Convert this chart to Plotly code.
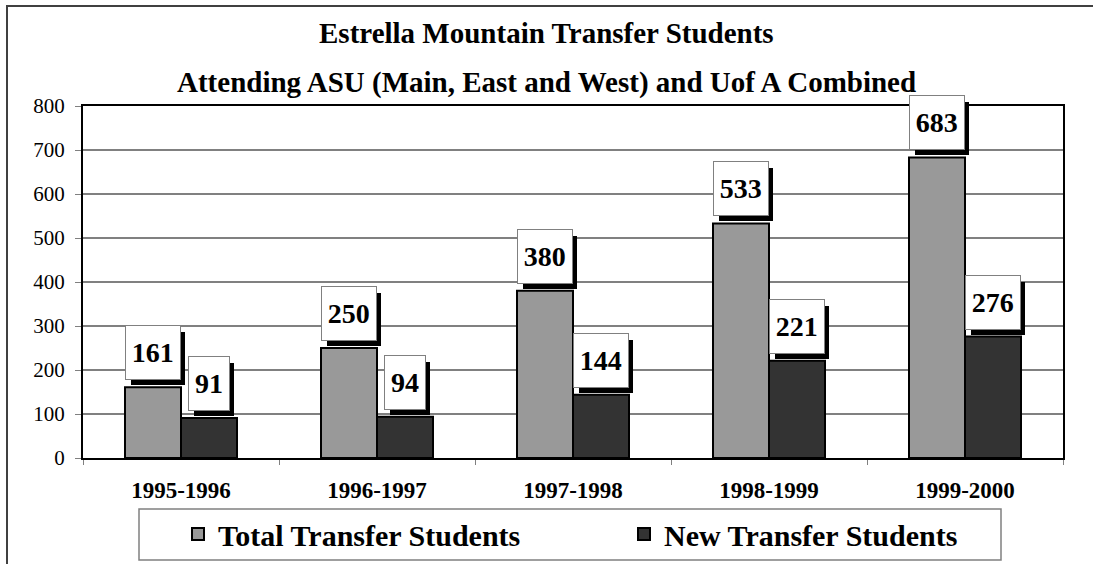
import plotly.graph_objects as go

categories = ["1995-1996", "1996-1997", "1997-1998", "1998-1999", "1999-2000"]
total_students = [161, 250, 380, 533, 683]
new_students = [91, 94, 144, 221, 276]
series_names = ["Total Transfer Students", "New Transfer Students"]
series_colors = ["#999999", "#333333"]
title_lines = ["Estrella Mountain Transfer Students",
               "Attending ASU (Main, East and West) and Uof A Combined"]
y_ticks = [0, 100, 200, 300, 400, 500, 600, 700, 800]

FONT = "Liberation Serif, Times New Roman, serif"
W, H = 1093, 564
ML, MR, MT, MB = 83, 30, 106, 106
PW, PH = W - ML - MR, H - MT - MB
BARGAP = 0.4286


def px_x(p):
    return (p - ML) / PW


def px_y(p):
    return (H - MB - p) / PH


fig = go.Figure()
legend_ids = ["legend", "legend2"]
for name, vals, col, lg in zip(series_names, [total_students, new_students],
                               series_colors, legend_ids):
    fig.add_trace(go.Bar(
        x=categories, y=vals, name=name, legend=lg,
        marker=dict(color=col, line=dict(color="black", width=2)),
        hoverinfo="x+y+name",
    ))

# data labels with drop shadows
half = (1 - BARGAP) / 4
annotations = []
for s, vals in enumerate([total_students, new_students]):
    off = -half if s == 0 else half
    for i, v in enumerate(vals):
        txt = str(v)
        bw = 13.5 * len(txt) + 13
        common = dict(x=i + off, y=v, xref="x", yref="y", xanchor="center",
                      yanchor="bottom", showarrow=False, width=bw, height=53,
                      borderpad=0)
        # shadow box (no text)
        annotations.append(dict(common, text=" ", xshift=5, yshift=2,
                                bgcolor="black", borderwidth=0,
                                font=dict(family=FONT, size=28, color="black")))
        # white label box
        annotations.append(dict(common, text="<b>" + txt + "</b>", xshift=0,
                                yshift=7, bgcolor="white",
                                bordercolor="#808080", borderwidth=1,
                                font=dict(family=FONT, size=28, color="black")))

# title lines
for t, yp in zip(title_lines, [33, 82]):
    annotations.append(dict(text="<b>" + t + "</b>", x=px_x(546), y=px_y(yp),
                            xref="paper", yref="paper", xanchor="center",
                            yanchor="middle", showarrow=False,
                            font=dict(family=FONT, size=29, color="black")))

shapes = [
    # outer chart frame
    dict(type="rect", xref="paper", yref="paper",
         x0=px_x(7), x1=px_x(1110), y0=px_y(580), y1=px_y(6),
         line=dict(color="#404040", width=2), layer="below"),
    # legend frame
    dict(type="rect", xref="paper", yref="paper",
         x0=px_x(139), x1=px_x(1001), y0=px_y(560), y1=px_y(509),
         line=dict(color="#808080", width=1.5), fillcolor="white", layer="below"),
]

legend_font = dict(family=FONT, size=30, color="black", weight="bold")
fig.update_layout(
    template="none",
    width=W, height=H,
    margin=dict(l=ML, r=MR, t=MT, b=MB, pad=0, autoexpand=False),
    paper_bgcolor="white", plot_bgcolor="white",
    barmode="group", bargap=BARGAP, bargroupgap=0,
    font=dict(family=FONT, color="black"),
    showlegend=True,
    legend=dict(orientation="h", x=px_x(178), y=px_y(534), xanchor="left",
                yanchor="middle", bgcolor="rgba(0,0,0,0)", borderwidth=0,
                font=legend_font),
    legend2=dict(orientation="h", x=px_x(624), y=px_y(534), xanchor="left",
                 yanchor="middle", bgcolor="rgba(0,0,0,0)", borderwidth=0,
                 font=legend_font),
    annotations=annotations,
    shapes=shapes,
)
fig.update_yaxes(range=[0, 800], tickvals=y_ticks, showgrid=True,
                 gridcolor="#808080", gridwidth=1.5, automargin=False,
                 showline=True, linecolor="black", linewidth=2, mirror=True,
                 ticks="outside", ticklen=6, tickcolor="#808080", tickwidth=1,
                 ticklabelstandoff=6,
                 tickfont=dict(family=FONT, size=21, color="black"),
                 zeroline=False)
fig.update_xaxes(showline=True, linecolor="black", linewidth=2, mirror=True,
                 automargin=False, showgrid=False,
                 ticks="outside", tickson="boundaries", ticklen=5,
                 tickcolor="#808080", tickwidth=1, ticklabelstandoff=10,
                 tickfont=dict(family=FONT, size=23, color="black", weight="bold"))

fig.write_html("out.html",
               config={"displayModeBar": False},
               post_script="document.body.style.margin='0';"
                           "document.body.style.overflow='hidden';")
